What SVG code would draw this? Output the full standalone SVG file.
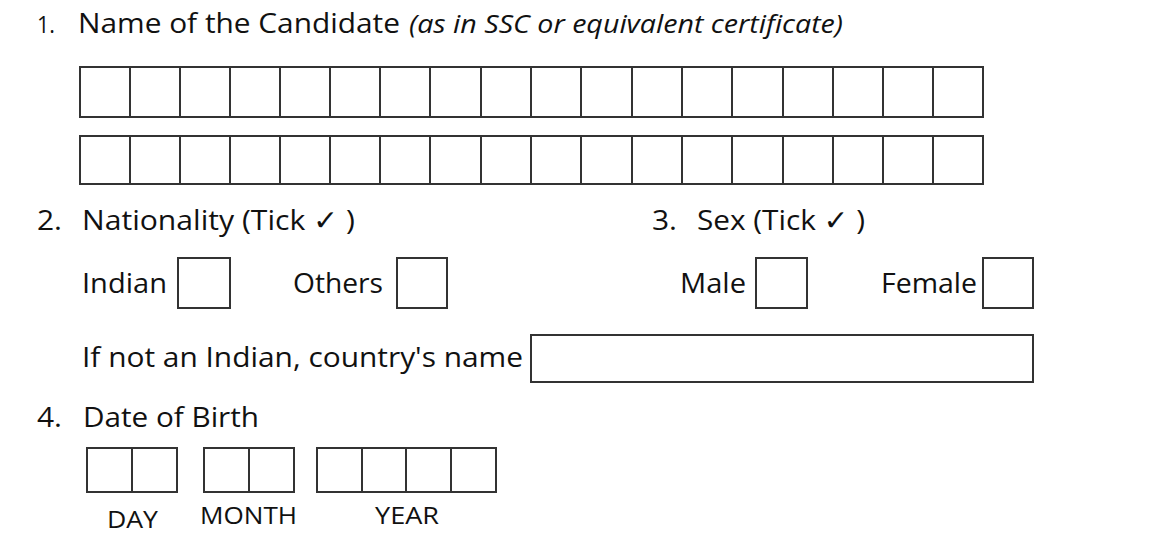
<svg xmlns="http://www.w3.org/2000/svg" width="1165" height="541" viewBox="0 0 1165 541">
<style>
text{font-family:"Open Sans","Noto Sans","DejaVu Sans",sans-serif;fill:#111;font-weight:500}
.t{font-size:28px}
.n{font-size:24px;font-weight:400}
.i{font-size:25px;font-style:italic}
.s{font-size:24px;font-weight:400}
.b{fill:#fff;stroke:#333;stroke-width:2}
.l{stroke:#333;stroke-width:2}
</style>
<rect width="1165" height="541" fill="#fff"/>
<g id="q1">
<text class="n" x="37" y="33" textLength="18" lengthAdjust="spacingAndGlyphs">1.</text>
<text class="t" x="78" y="33" textLength="322" lengthAdjust="spacingAndGlyphs">Name of the Candidate</text>
<text class="i" x="409" y="33" textLength="434" lengthAdjust="spacingAndGlyphs">(as in SSC or equivalent certificate)</text>
<rect class="b" x="80" y="67" width="903" height="50"/>
<path class="l" d="M130 67V117M180 67V117M230 67V117M280 67V117M330 67V117M380 67V117M430 67V117M481 67V117M531 67V117M581 67V117M632 67V117M682 67V117M732 67V117M783 67V117M833 67V117M883 67V117M933 67V117"/>
<rect class="b" x="80" y="136" width="903" height="48"/>
<path class="l" d="M130 136V184M180 136V184M230 136V184M280 136V184M330 136V184M380 136V184M430 136V184M481 136V184M531 136V184M581 136V184M632 136V184M682 136V184M732 136V184M783 136V184M833 136V184M883 136V184M933 136V184"/>
</g>
<g id="q2">
<text class="t" x="37" y="230" textLength="25" lengthAdjust="spacingAndGlyphs">2.</text>
<text class="t" x="82" y="230" textLength="273" lengthAdjust="spacingAndGlyphs">Nationality (Tick ✓ )</text>
<text class="t" x="82" y="293" textLength="85" lengthAdjust="spacingAndGlyphs">Indian</text>
<rect class="b" x="178" y="258" width="52" height="50"/>
<text class="t" x="293" y="293" textLength="90" lengthAdjust="spacingAndGlyphs">Others</text>
<rect class="b" x="397" y="258" width="50" height="50"/>
<text class="t" x="82" y="367" textLength="441" lengthAdjust="spacingAndGlyphs">If not an Indian, country's name</text>
<rect class="b" x="531" y="335" width="502" height="47"/>
</g>
<g id="q3">
<text class="t" x="652" y="230" textLength="25" lengthAdjust="spacingAndGlyphs">3.</text>
<text class="t" x="697" y="230" textLength="168" lengthAdjust="spacingAndGlyphs">Sex (Tick ✓ )</text>
<text class="t" x="680" y="293" textLength="66" lengthAdjust="spacingAndGlyphs">Male</text>
<rect class="b" x="756" y="258" width="51" height="50"/>
<text class="t" x="881" y="293" textLength="96" lengthAdjust="spacingAndGlyphs">Female</text>
<rect class="b" x="983" y="258" width="50" height="50"/>
</g>
<g id="q4">
<text class="t" x="37" y="427" textLength="25" lengthAdjust="spacingAndGlyphs">4.</text>
<text class="t" x="83" y="427" textLength="176" lengthAdjust="spacingAndGlyphs">Date of Birth</text>
<rect class="b" x="87" y="448" width="90" height="44"/>
<path class="l" d="M132 448V492"/>
<rect class="b" x="204" y="448" width="90" height="44"/>
<path class="l" d="M249 448V492"/>
<rect class="b" x="317" y="448" width="179" height="44"/>
<path class="l" d="M362 448V492M406 448V492M451 448V492"/>
<text class="s" x="107" y="528" textLength="51" lengthAdjust="spacingAndGlyphs">DAY</text>
<text class="s" x="200" y="524" textLength="97" lengthAdjust="spacingAndGlyphs">MONTH</text>
<text class="s" x="375" y="524" textLength="64" lengthAdjust="spacingAndGlyphs">YEAR</text>
</g>
</svg>
